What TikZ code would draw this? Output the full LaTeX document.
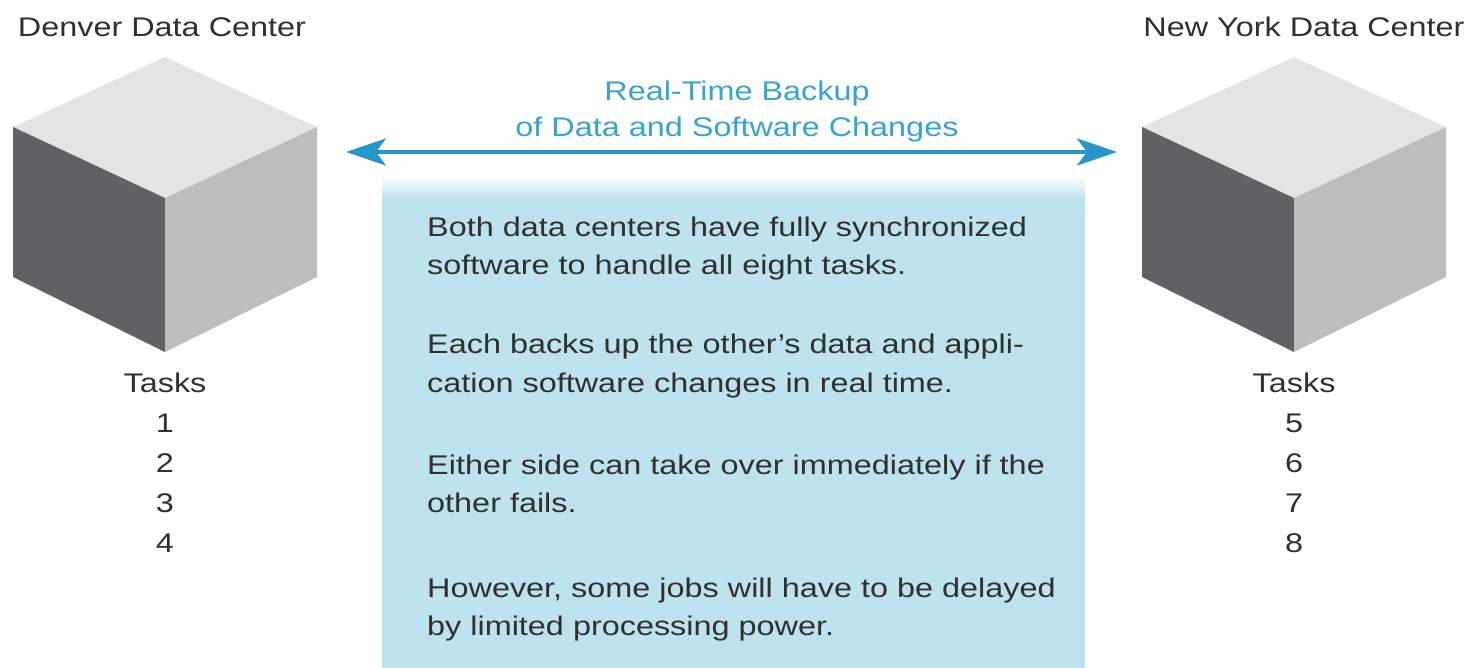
\documentclass[tikz,border=0pt]{standalone}
\usepackage{fontspec}
\setmainfont{Liberation Sans}[FakeStretch=1.2]
\usetikzlibrary{arrows.meta}
\definecolor{boxblue}{HTML}{BEE3EF}
\definecolor{linkblue}{HTML}{2696CA}
\definecolor{capblue}{HTML}{35A4D0}
\definecolor{cubetop}{HTML}{E3E5E5}
\definecolor{cubeleft}{HTML}{5E6262}
\definecolor{cuberight}{HTML}{BCBEBE}
\definecolor{inkgrey}{HTML}{2E3132}
\tikzset{
  txt/.style={inner sep=0pt, text=inkgrey, font=\fontsize{27}{32}\selectfont},
  bodyline/.style={txt, anchor=base west},
  centerline/.style={txt, anchor=base},
  caption/.style={txt, anchor=base, text=capblue},
  link/.style={line width=4pt, draw=linkblue,
    {Stealth[length=40pt,width=27pt,inset=10pt]}-{Stealth[length=40pt,width=27pt,inset=10pt]}},
  faceT/.style={fill=cubetop},
  faceL/.style={fill=cubeleft},
  faceR/.style={fill=cuberight}
}
% isometric block: #1 = centre x, #2 = name prefix
\newcommand{\serverblock}[2]{%
  \coordinate (#2T) at (#1,57);
  \coordinate (#2L) at ({#1-152},127);
  \coordinate (#2R) at ({#1+152},127);
  \coordinate (#2M) at (#1,198);
  \coordinate (#2LB) at ({#1-152},277);
  \coordinate (#2RB) at ({#1+152},277);
  \coordinate (#2B) at (#1,352);
  \fill[faceT] (#2T) -- (#2R) -- (#2M) -- (#2L) -- cycle;
  \fill[faceL] (#2L) -- (#2M) -- (#2B) -- (#2LB) -- cycle;
  \fill[faceR] (#2M) -- (#2R) -- (#2RB) -- (#2B) -- cycle;
}
\begin{document}
\begin{tikzpicture}[x=1pt,y=-1pt]
\useasboundingbox (0,0) rectangle (1465,668);

% note panel with a soft top edge
\fill[boxblue] (382,197) rectangle (1085,668);
\shade[top color=white, bottom color=boxblue] (382,176) rectangle (1085,197.5);

% the two data centres
\serverblock{165}{den}
\serverblock{1294}{ny}

\node[centerline] (denTitle) at (162,37) {Denver Data Center};
\node[centerline] (nyTitle) at (1304,37) {New York Data Center};

\node[centerline] (denTasks) at (165,392) {Tasks};
\node[centerline] (den1) at (165,432) {1};
\node[centerline] (den2) at (165,472) {2};
\node[centerline] (den3) at (165,512) {3};
\node[centerline] (den4) at (165,552) {4};

\node[centerline] (nyTasks) at (1294,392) {Tasks};
\node[centerline] (ny5) at (1294,432) {5};
\node[centerline] (ny6) at (1294,472) {6};
\node[centerline] (ny7) at (1294,512) {7};
\node[centerline] (ny8) at (1294,552) {8};

% replication link
\coordinate (linkL) at (346,152);
\coordinate (linkR) at (1117,152);
\draw[link] (linkL) -- (linkR);
\node[caption] (cap1) at (737,101) {Real-Time Backup};
\node[caption] (cap2) at (737,137) {of Data and Software Changes};

% notes
\node[bodyline] (p1a) at (427,237) {Both data centers have fully synchronized};
\node[bodyline] (p1b) at (427,275) {software to handle all eight tasks.};
\node[bodyline] (p2a) at (427,354) {Each backs up the other’s data and appli-};
\node[bodyline] (p2b) at (427,392) {cation software changes in real time.};
\node[bodyline] (p3a) at (427,474) {Either side can take over immediately if the};
\node[bodyline] (p3b) at (427,512) {other fails.};
\node[bodyline] (p4a) at (427,597) {However, some jobs will have to be delayed};
\node[bodyline] (p4b) at (427,635) {by limited processing power.};
\end{tikzpicture}
\end{document}
